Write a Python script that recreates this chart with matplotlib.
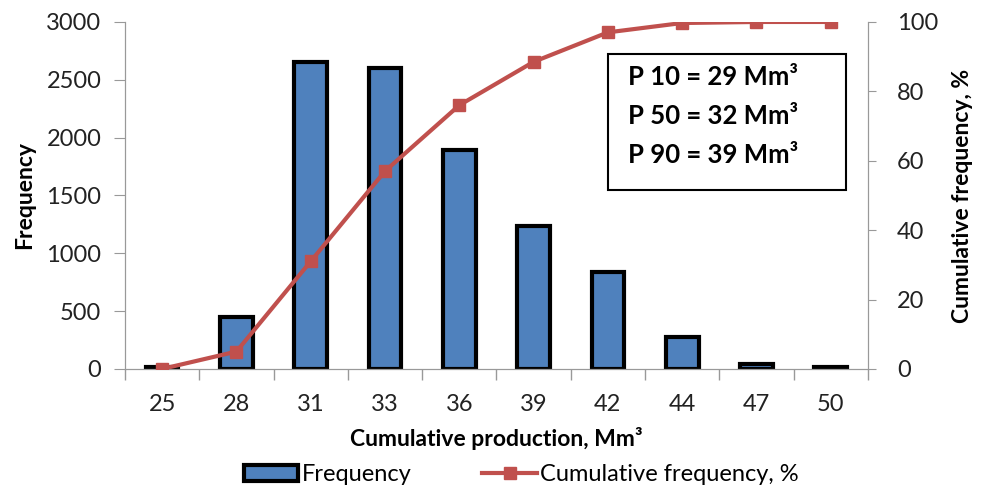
import matplotlib
matplotlib.use("Agg")
import matplotlib.pyplot as plt
import numpy as np
from matplotlib.ticker import FixedLocator
from matplotlib.patches import Rectangle

categories = ["25", "28", "31", "33", "36", "39", "42", "44", "47", "50"]
frequency = [20, 450, 2650, 2600, 1890, 1240, 840, 280, 40, 20]
cumulative = [0, 5, 31, 57, 76, 88.5, 97, 99.7, 100, 100]
box_lines = ["P 10 = 29 Mm³", "P 50 = 32 Mm³", "P 90 = 39 Mm³"]

plt.rcParams['font.family'] = ['Lato', 'DejaVu Sans']

fig = plt.figure(figsize=(9.84, 4.88), dpi=100)
ax = fig.add_axes([0.127, 0.244, 0.755, 0.711])
ax2 = ax.twinx()

x = np.arange(len(categories))
bars = ax.bar(x, frequency, width=0.44, color="#4F81BD", edgecolor="black",
              linewidth=3, label="Frequency", zorder=2)
line, = ax2.plot(x, cumulative, color="#C0504D", linewidth=3, marker="s",
                 markersize=9, label="Cumulative frequency, %", zorder=3)

ax.set_xlim(-0.5, len(categories) - 0.5)
ax.set_ylim(0, 3000)
ax2.set_ylim(0, 100)
ax.set_yticks(np.arange(0, 3001, 500))
ax2.set_yticks(np.arange(0, 101, 20))
ax.set_xticks(x)
ax.set_xticklabels(categories)
ax.xaxis.set_minor_locator(FixedLocator(np.arange(-0.5, len(categories), 1)))
ax.tick_params(axis='x', which='major', length=0, pad=18, labelsize=17, labelcolor="#222222")
ax.tick_params(axis='x', which='minor', length=8, color="#999999", width=1)
ax.tick_params(axis='y', length=8, color="#999999", labelsize=17, pad=9, labelcolor="#222222")
ax2.tick_params(axis='y', length=6, color="#999999", labelsize=17, pad=15, labelcolor="#222222")

for a in (ax, ax2):
    a.spines['top'].set_visible(False)
    for s in ('left', 'right', 'bottom'):
        a.spines[s].set_color("#999999")
ax.patch.set_visible(False)

ax.set_ylabel("Frequency", fontsize=16.5, fontweight="bold", labelpad=8)
ax2.set_ylabel("Cumulative frequency, %", fontsize=16.5, fontweight="bold", labelpad=10)
ax.set_xlabel("Cumulative production, Mm³", fontsize=16.5, fontweight="bold", labelpad=9)

ax2.add_patch(Rectangle((0.650, 0.516), 0.320, 0.392, transform=ax.transAxes,
                        facecolor="white", edgecolor="black", linewidth=1.5, zorder=5))
for yy, txt in zip([0.841, 0.729, 0.617], box_lines):
    ax2.text(0.677, yy, txt, transform=ax.transAxes, fontsize=18.5, fontweight="bold",
             va="center", ha="left", zorder=6)

fig.legend([bars, line], ["Frequency", "Cumulative frequency, %"], loc="lower center",
           bbox_to_anchor=(0.53, -0.038), ncol=2, frameon=False, fontsize=17,
           handlelength=2.3, columnspacing=3.0, handletextpad=0.15)

fig.savefig("out.png", dpi=100)
